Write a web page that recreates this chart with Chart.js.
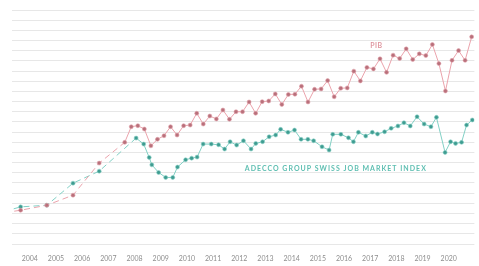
<!DOCTYPE html>
<html>
<head>
<meta charset="utf-8">
<script src="https://cdn.jsdelivr.net/npm/chart.js@4.4.1/dist/chart.umd.min.js"></script>
<style>
  html, body { margin: 0; padding: 0; background: #fff; }
  #wrap { width: 479px; height: 266px; }
</style>
</head>
<body>
<div id="wrap"><canvas id="chart" width="479" height="266"></canvas></div>
<script>
// annual points (mid-year) before the quarterly series starts
const annualYears = [2002.65, 2003.65, 2004.65, 2005.65, 2006.65];
const pibAnnual = [29.3, 33.2, 38.1, 48.0, 79.5];
const jobAnnual = [29.3, 36.5, 38.1, 59.8, 71.6];

// PIB, quarterly from Q3 2007
const pibStart = 2007.625;
const pibQuarterly = [
    99.9, 115.3, 116.3, 113.0, 96.5, 102.9, 106.4, 115.3, 107.1, 116.3,
    116.9, 128.5, 117.9, 125.8, 122.9, 131.7, 122.6, 130.0, 130.0, 139.6,
    128.5, 139.9, 140.6, 147.5, 137.1, 147.0, 147.2, 155.1, 139.6, 152.1,
    152.4, 160.6, 144.7, 153.1, 153.4, 169.9, 160.3, 173.6, 172.1, 182.0,
    168.7, 185.6, 182.3, 191.8, 181.3, 186.9, 185.2, 196.1, 177.3, 150.4,
    180.5, 190.1, 180.5, 203.6
];

// Adecco Group Swiss Job Market Index
const jobDates = [
    2008.06, 2008.35, 2008.56, 2008.66, 2008.92,
    2009.19, 2009.46, 2009.64, 2009.95,
    2010.18, 2010.39, 2010.62, 2010.93,
    2011.21, 2011.44, 2011.65, 2011.90,
    2012.16, 2012.45, 2012.63, 2012.89,
    2013.14, 2013.39, 2013.58, 2013.86,
    2014.11, 2014.36, 2014.62, 2014.84,
    2015.16, 2015.43, 2015.57, 2015.88,
    2016.17, 2016.36, 2016.55, 2016.83,
    2017.08, 2017.28, 2017.55, 2017.80,
    2018.06, 2018.29, 2018.53, 2018.79,
    2019.06, 2019.32, 2019.53, 2019.86,
    2020.07, 2020.26, 2020.49, 2020.68, 2020.90
];
const jobValues = [
    104.1, 98.2, 85.1, 77.8, 70.3,
    65.4, 65.4, 75.6, 82.8,
    84.4, 85.4, 98.2, 98.2,
    97.5, 93.3, 100.5, 97.2,
    101.5, 93.3, 98.9, 100.5,
    105.4, 107.1, 112.7, 109.8,
    112.0, 102.9, 102.9, 101.5,
    95.6, 92.3, 107.8, 107.8,
    104.4, 100.5, 109.8, 106.1,
    109.8, 108.1, 110.3, 113.7,
    116.0, 119.2, 116.0, 125.1,
    117.9, 115.3, 124.5, 90.0,
    100.5, 98.9, 99.9, 116.9, 121.9
];

const yearTicks = [2004, 2005, 2006, 2007, 2008, 2009, 2010, 2011, 2012,
    2013, 2014, 2015, 2016, 2017, 2018, 2019, 2020];

const pibLabel = "PIB";
const jobLabel = "ADECCO GROUP SWISS JOB MARKET INDEX";

// points: annual part first, then the finer series
const pibPoints = annualYears.map((x, i) => ({ x: x, y: pibAnnual[i] }))
    .concat(pibQuarterly.map((v, i) => ({ x: pibStart + i * 0.25, y: v })));
const jobPoints = annualYears.map((x, i) => ({ x: x, y: jobAnnual[i] }))
    .concat(jobDates.map((x, i) => ({ x: x, y: jobValues[i] })));

// annual segments are dashed
function dashUntil(lastAnnual) {
    return ctx => ctx.p0.parsed.x <= lastAnnual ? [6, 4] : undefined;
}

const labelsPlugin = {
    id: "seriesLabels",
    afterDatasetsDraw(chart) {
        const ctx = chart.ctx;
        const xs = chart.scales.x;
        const ys = chart.scales.y;
        ctx.save();
        ctx.textBaseline = "middle";

        ctx.font = "600 7px Lato";
        ctx.fillStyle = "#dd8f99";
        ctx.textAlign = "center";
        ctx.letterSpacing = "0.5px";
        ctx.fillText(pibLabel, xs.getPixelForValue(2017.24), ys.getPixelForValue(195));

        ctx.font = "bold 7px Lato";
        ctx.fillStyle = "#5fbfb2";
        ctx.textAlign = "left";
        ctx.letterSpacing = "0px";
        const w = ctx.measureText(jobLabel).width;
        ctx.letterSpacing = ((181 - w) / (jobLabel.length - 1)).toFixed(2) + "px";
        ctx.fillText(jobLabel, xs.getPixelForValue(2012.21), ys.getPixelForValue(74));
        ctx.restore();
    }
};

new Chart(document.getElementById("chart"), {
    type: "line",
    data: {
        datasets: [
            {
                label: pibLabel,
                data: pibPoints,
                borderColor: "#eba3ac",
                borderWidth: 1,
                pointRadius: 2,
                pointBorderWidth: 0.6,
                pointBackgroundColor: "#b9707b",
                pointBorderColor: "#e3a5ad",
                tension: 0,
                segment: { borderDash: dashUntil(2006.65) }
            },
            {
                label: jobLabel,
                data: jobPoints,
                borderColor: "#82d0c5",
                borderWidth: 1,
                pointRadius: 2,
                pointBorderWidth: 0.6,
                pointBackgroundColor: "#3f9c91",
                pointBorderColor: "#8fd3ca",
                tension: 0,
                segment: { borderDash: dashUntil(2006.65) }
            }
        ]
    },
    options: {
        responsive: false,
        animation: false,
        layout: { padding: { left: 12, right: 0, top: 10, bottom: 0 } },
        plugins: {
            legend: { display: false },
            tooltip: { enabled: false }
        },
        scales: {
            x: {
                type: "linear",
                min: 2003.32,
                max: 2020.98,
                grid: { display: false, drawTicks: false },
                border: { display: false },
                afterBuildTicks: scale => {
                    scale.ticks = yearTicks.map(v => ({ value: v }));
                },
                afterFit: scale => { scale.height = 22; },
                ticks: {
                    padding: 11,
                    color: "#8e8e8e",
                    font: { family: "Lato", size: 7 },
                    maxRotation: 0,
                    autoSkip: false,
                    callback: v => String(v)
                }
            },
            y: {
                min: 0,
                max: 230,
                border: { display: false },
                grid: { color: "#e7e7e7", lineWidth: 1, drawTicks: false },
                ticks: { display: false, stepSize: 10 }
            }
        }
    },
    plugins: [labelsPlugin]
});
</script>
</body>
</html>
